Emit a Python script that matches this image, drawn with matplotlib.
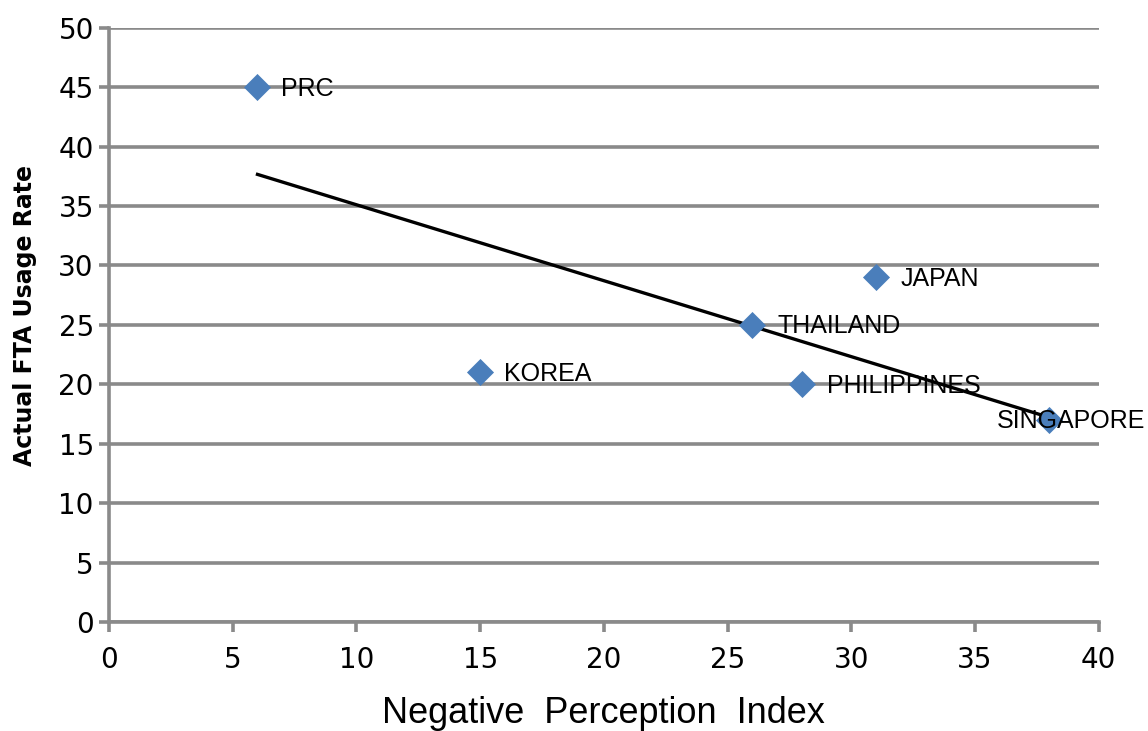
import matplotlib.pyplot as plt
import numpy as np

# Data
countries = ["PRC", "KOREA", "THAILAND", "PHILIPPINES", "JAPAN", "SINGAPORE"]
neg_perception = [6, 15, 26, 28, 31, 38]
fta_usage = [45, 21, 25, 20, 29, 17]

# label offsets (points) relative to each marker
label_dx = [17, 17, 18, 18, 18, -38]

fig = plt.figure(figsize=(11.48, 7.31), dpi=100)
ax = fig.add_axes([0.095, 0.149, 0.862, 0.813])

grid_col = "#8a8a8a"
ax.set_xlim(0, 40)
ax.set_ylim(0, 50)
ax.set_xticks(range(0, 41, 5))
ax.set_yticks(range(0, 51, 5))
ax.yaxis.grid(True, color=grid_col, linewidth=2.6)
ax.set_axisbelow(True)
for s in ["top", "right"]:
    ax.spines[s].set_visible(False)
for s in ["left", "bottom"]:
    ax.spines[s].set_color(grid_col)
    ax.spines[s].set_linewidth(2.6)
ax.tick_params(axis="both", colors=grid_col, width=2.6, length=7,
               labelsize=20, labelcolor="black")
ax.tick_params(axis="x", pad=10)
ax.tick_params(axis="y", pad=4)

# linear trend line across the data range
slope, intercept = np.polyfit(neg_perception, fta_usage, 1)
xs = np.array([min(neg_perception), max(neg_perception)])
ax.plot(xs, slope * xs + intercept, color="black", linewidth=2.4, zorder=3)

ax.scatter(neg_perception, fta_usage, marker="D", s=190, color="#4a7ebb",
           zorder=4, linewidths=0)

for name, x, y, dx in zip(countries, neg_perception, fta_usage, label_dx):
    ax.annotate(name, (x, y), xytext=(dx, -1), textcoords="offset points",
                fontsize=18, family="Liberation Sans", va="center", ha="left",
                zorder=5, annotation_clip=False)

ax.set_xlabel("Negative  Perception  Index", fontsize=26, labelpad=16,
              family="Liberation Sans")
fig.text(0.022, 0.569, "Actual FTA Usage Rate", rotation=90, fontsize=17,
         fontweight="heavy", va="center", ha="center")

fig.savefig("out.png", dpi=100)
